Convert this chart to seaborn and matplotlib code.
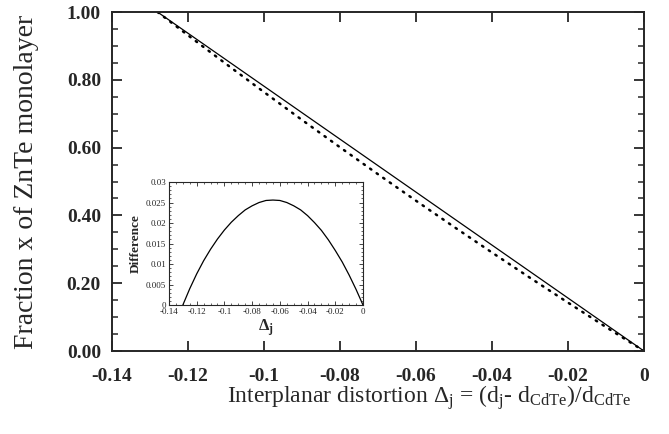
import numpy as np
import pandas as pd
import matplotlib
matplotlib.use("Agg")
import matplotlib.pyplot as plt
from matplotlib.ticker import MultipleLocator, FixedFormatter, FixedLocator
import seaborn as sns

# --------------------------------
# data
# --------------------------------
delta = [-0.128, -0.12, -0.11, -0.10, -0.09, -0.08, -0.07,
         -0.06, -0.05, -0.04, -0.03, -0.02, -0.01, 0.0]
frac_solid = [1.000, 0.9375, 0.8594, 0.7813, 0.7031, 0.6250, 0.5469,
              0.4688, 0.3906, 0.3125, 0.2344, 0.1563, 0.0781, 0.0]
frac_dotted = [1.000, 0.9315, 0.8471, 0.7639, 0.6818, 0.6011, 0.5216,
               0.4434, 0.3663, 0.2906, 0.2161, 0.1428, 0.0707, 0.0]

inset_delta = [-0.13, -0.125, -0.12, -0.115, -0.11, -0.105, -0.10, -0.095,
               -0.09, -0.085, -0.08, -0.075, -0.07, -0.065, -0.06, -0.055,
               -0.05, -0.045, -0.04, -0.035, -0.03, -0.025, -0.02, -0.015,
               -0.01, -0.005, 0.0]
inset_diff = [0.0, 0.0040, 0.0076, 0.0108, 0.0136, 0.0161, 0.0183, 0.0202,
              0.0218, 0.0232, 0.0242, 0.0250, 0.0255, 0.0256, 0.0255, 0.0250,
              0.0242, 0.0232, 0.0218, 0.0201, 0.0182, 0.0159, 0.0133, 0.0105,
              0.0073, 0.0038, 0.0]

x_ticks = [-0.14, -0.12, -0.10, -0.08, -0.06, -0.04, -0.02, 0.0]
x_labels = ["-0.14", "-0.12", "-0.1", "-0.08", "-0.06", "-0.04", "-0.02", "0"]
y_ticks = [0.0, 0.2, 0.4, 0.6, 0.8, 1.0]
y_labels = ["0.00", "0.20", "0.40", "0.60", "0.80", "1.00"]
in_y_ticks = [0, 0.005, 0.01, 0.015, 0.02, 0.025, 0.03]
in_y_labels = ["0", "0.005", "0.01", "0.015", "0.02", "0.025", "0.03"]

main = pd.DataFrame({"delta": delta, "solid": frac_solid, "dotted": frac_dotted})
ins = pd.DataFrame({"delta": inset_delta, "diff": inset_diff})

sns.set_theme(style="ticks")
plt.rcParams["font.family"] = ["Liberation Serif", "DejaVu Serif"]
plt.rcParams["mathtext.fontset"] = "custom"
plt.rcParams["mathtext.rm"] = "Liberation Serif"
plt.rcParams["mathtext.it"] = "Liberation Serif"
plt.rcParams["mathtext.bf"] = "Liberation Serif:bold"
plt.rcParams["mathtext.default"] = "regular"

fig = plt.figure(figsize=(6.69, 4.34), dpi=100)
ax = fig.add_axes([0.1674, 0.1912, 0.7952, 0.781])

sns.lineplot(data=main, x="delta", y="solid", ax=ax, color="black", lw=0.9)
sns.lineplot(data=main, x="delta", y="dotted", ax=ax, color="black", lw=1.8,
             linestyle=(0, (0.6, 2.6)), dash_capstyle="round")

ax.set_xlim(-0.14, 0)
ax.set_ylim(0, 1)
ax.xaxis.set_major_locator(FixedLocator(x_ticks))
ax.xaxis.set_major_formatter(FixedFormatter(x_labels))
ax.yaxis.set_major_locator(FixedLocator(y_ticks))
ax.yaxis.set_major_formatter(FixedFormatter(y_labels))
ax.yaxis.set_minor_locator(MultipleLocator(0.05))
ax.tick_params(which="major", direction="in", length=7, width=1.3,
               top=True, right=True, labelsize=14)
ax.tick_params(axis="x", which="major", pad=12)
ax.tick_params(axis="y", which="major", pad=8)
ax.tick_params(which="minor", direction="in", length=4, width=1.1,
               top=True, right=True)
for lab in ax.get_xticklabels() + ax.get_yticklabels():
    lab.set_fontweight("bold")
for s in ax.spines.values():
    s.set_linewidth(1.4)
ax.set_xlabel(r"Interplanar distortion $\Delta_{j}$ = (d$_{j}$- d$_{CdTe}$)/d$_{CdTe}$",
              fontsize=17)
ax.xaxis.set_label_coords(0.597, -0.095)
ax.set_ylabel("Fraction x of ZnTe monolayer", fontsize=20)
ax.yaxis.set_label_coords(-0.138, 0.5)

# inset
axi = fig.add_axes([0.2526, 0.2972, 0.29, 0.2834])
sns.lineplot(data=ins, x="delta", y="diff", ax=axi, color="black", lw=0.9)
axi.set_xlim(-0.14, 0)
axi.set_ylim(0, 0.03)
axi.xaxis.set_major_locator(FixedLocator(x_ticks))
axi.xaxis.set_major_formatter(FixedFormatter(x_labels))
axi.xaxis.set_minor_locator(MultipleLocator(0.005))
axi.yaxis.set_major_locator(FixedLocator(in_y_ticks))
axi.yaxis.set_major_formatter(FixedFormatter(in_y_labels))
axi.yaxis.set_minor_locator(MultipleLocator(0.001))
axi.tick_params(which="major", direction="in", length=3, width=0.6,
                top=True, right=True, labelsize=6.5, pad=2)
axi.tick_params(which="minor", direction="in", length=1.5, width=0.5,
                top=True, right=True)
for s in axi.spines.values():
    s.set_linewidth(0.8)
axi.set_xlabel(r"$\mathbf{\Delta_{j}}$", fontsize=12, labelpad=1)
axi.set_ylabel("Difference", fontsize=9.5, fontweight="bold", labelpad=3)

fig.savefig("out.png", dpi=100)
